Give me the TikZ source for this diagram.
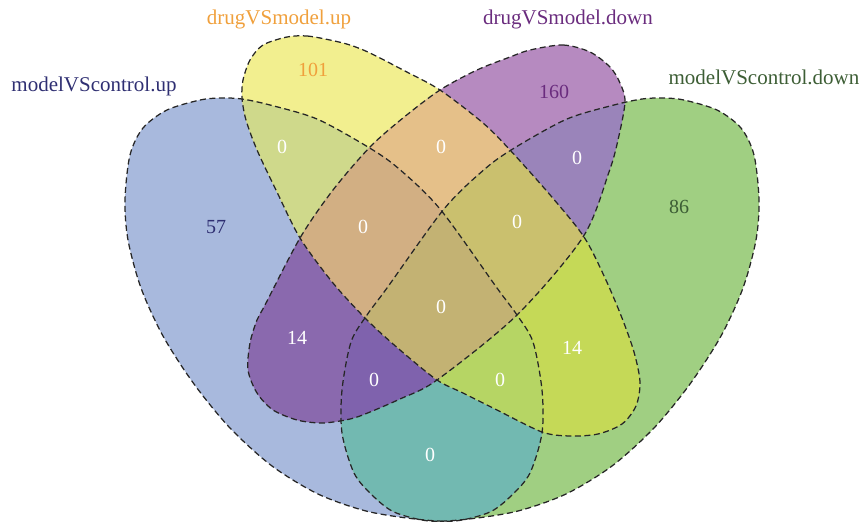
\documentclass[tikz,border=0pt]{standalone}
\usepackage{fontspec}
\setmainfont{Liberation Serif}

% region fills
\definecolor{cA}{HTML}{A8B9DD}
\definecolor{cB}{HTML}{F2EF8F}
\definecolor{cC}{HTML}{B68AC0}
\definecolor{cD}{HTML}{A0CF82}
\definecolor{cAB}{HTML}{CFD98B}
\definecolor{cAC}{HTML}{8A69AE}
\definecolor{cAD}{HTML}{72B9B1}
\definecolor{cBC}{HTML}{E5C089}
\definecolor{cBD}{HTML}{C5D957}
\definecolor{cCD}{HTML}{9A84BA}
\definecolor{cABC}{HTML}{D2AF83}
\definecolor{cABD}{HTML}{B6D564}
\definecolor{cACD}{HTML}{7F62AD}
\definecolor{cBCD}{HTML}{CAC06E}
\definecolor{cABCD}{HTML}{C3B273}
% label colours
\definecolor{tA}{HTML}{2F2F72}
\definecolor{tB}{HTML}{F0A03C}
\definecolor{tC}{HTML}{6A2C7E}
\definecolor{tD}{HTML}{3D5E35}

% set outlines (D is A mirrored about x = 442)
\def\pA{plot[smooth cycle] coordinates {(167,110) (200,100) (221,98) (242,99) (270,105) (317,119) (368,147) (398,168) (440,209) (497,288) (517,315) (533,342) (542,390) (542,433) (530,473) (512,495) (490,512) (455,521) (415,519) (366,511) (318,494) (272,466) (230,428) (194,384) (163,336) (141,288) (128,240) (125,200) (130,155) (143,128)}}
\def\pD{plot[smooth cycle] coordinates {(717,110) (684,100) (663,98) (642,99) (614,105) (567,119) (516,147) (486,168) (444,209) (387,288) (367,315) (351,342) (342,390) (342,433) (354,473) (372,495) (394,512) (429,521) (469,519) (518,511) (566,494) (612,466) (654,428) (690,384) (721,336) (743,288) (756,240) (759,200) (754,155) (741,128)}}
\def\pB{plot[smooth cycle] coordinates {(287,37) (307,36) (330,40) (350,45) (370,53) (403,70) (440,90) (483,123) (510,150) (551,196) (584,237) (605,278) (622,318) (634,352) (640,382) (636,406) (622,424) (598,434) (570,436) (542,432) (497,410) (463,393) (437,380) (400,350) (367,320) (333,283) (300,238) (276,190) (257,150) (246,120) (242,98) (243,80) (250,60) (263,45)}}
\def\pC{plot[smooth cycle] coordinates {(530,50) (563,45) (590,52) (610,67) (620,83) (625,102) (618,140) (609,172) (583,237) (517,315) (437,380) (400,399) (360,416) (340,421) (320,423) (297,420) (273,410) (257,393) (248,370) (250,343) (257,320) (265,305) (300,238) (333,190) (370,147) (403,118) (440,90) (477,70) (510,57)}}

\tikzset{
  outline/.style={draw=black!85, line width=1.25pt, dash pattern=on 6pt off 3.5pt},
  num/.style={font=\fontsize{20}{24}\selectfont, text=white},
  setlabel/.style={font=\fontsize{21}{25}\selectfont, anchor=base}
}

\begin{document}
\begin{tikzpicture}[x=1pt,y=-1pt]
\useasboundingbox (0,0) rectangle (865,522);

% single sets
\fill[cA] \pA;
\fill[cB] \pB;
\fill[cC] \pC;
\fill[cD] \pD;
% pairs
\begin{scope}\clip \pA; \fill[cAB] \pB; \end{scope}
\begin{scope}\clip \pA; \fill[cAC] \pC; \end{scope}
\begin{scope}\clip \pA; \fill[cAD] \pD; \end{scope}
\begin{scope}\clip \pB; \fill[cBC] \pC; \end{scope}
\begin{scope}\clip \pB; \fill[cBD] \pD; \end{scope}
\begin{scope}\clip \pC; \fill[cCD] \pD; \end{scope}
% triples
\begin{scope}\clip \pA; \clip \pB; \fill[cABC] \pC; \end{scope}
\begin{scope}\clip \pA; \clip \pB; \fill[cABD] \pD; \end{scope}
\begin{scope}\clip \pA; \clip \pC; \fill[cACD] \pD; \end{scope}
\begin{scope}\clip \pB; \clip \pC; \fill[cBCD] \pD; \end{scope}
% all four
\begin{scope}\clip \pA; \clip \pB; \clip \pC; \fill[cABCD] \pD; \end{scope}

% dashed outlines
\draw[outline] \pA;
\draw[outline] \pB;
\draw[outline] \pC;
\draw[outline] \pD;

% set names
\node[setlabel, text=tA] (labA) at (94,91.5) {modelVScontrol.up};
\node[setlabel, text=tB] (labB) at (279,24) {drugVSmodel.up};
\node[setlabel, text=tC] (labC) at (568,24) {drugVSmodel.down};
\node[setlabel, text=tD] (labD) at (764,84) {modelVScontrol.down};

% region counts
\node[num, text=tA] (nA) at (216,227) {57};
\node[num, text=tB] (nB) at (313,70) {101};
\node[num, text=tC] (nC) at (554,92) {160};
\node[num, text=tD] (nD) at (679,207) {86};
\node[num] (nAB) at (282,147) {0};
\node[num] (nBC) at (441,147) {0};
\node[num] (nCD) at (577,158) {0};
\node[num] (nABC) at (363,227) {0};
\node[num] (nBCD) at (517,222) {0};
\node[num] (nABCD) at (441,307) {0};
\node[num] (nAC) at (297,338) {14};
\node[num] (nBD) at (572,348) {14};
\node[num] (nACD) at (374,380) {0};
\node[num] (nABD) at (500,380) {0};
\node[num] (nAD) at (430,455) {0};
\end{tikzpicture}
\end{document}
